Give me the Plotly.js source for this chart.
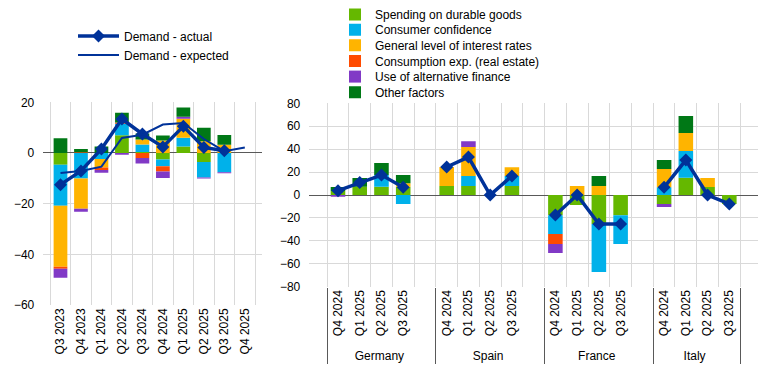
<!DOCTYPE html>
<html><head><meta charset="utf-8">
<script src="https://cdn.plot.ly/plotly-3.0.1.min.js"></script>
<style>html,body{margin:0;padding:0;background:#fff}#chart{width:768px;height:380px}</style>
</head><body><div id="chart"></div>
<script>
// ---------- Left panel (euro area) ----------
var leftQuarters = ["Q3 2023","Q4 2023","Q1 2024","Q2 2024","Q3 2024","Q4 2024","Q1 2025","Q2 2025","Q3 2025","Q4 2025"];
var leftDurable     = [-4.6, 0, 0, 7.0, 0.4, -2.6, 2.6, -3.6, 0, null];
var leftConfidence  = [-16.2, -10.1, -2.4, 4.5, 2.9, -2.6, 3.4, -6.1, -7.6, null];
var leftInterest    = [-24.1, -11.9, -3.3, 0, 2.0, 4.9, 7.5, 4.6, 3.2, null];
var leftConsumption = [-0.8, 0.3, -1.0, 0.5, -2.0, -2.1, 0, 0, 0, null];
var leftAltFinance  = [-3.5, -1.2, -1.1, -0.7, -2.2, -2.6, 0.8, -0.4, -0.4, null];
var leftOther       = [5.8, 1.3, 2.6, 3.9, 2.4, 2.0, 3.6, 5.4, 3.9, null];
var leftActual      = [-12.5, -7.1, 1.6, 13.4, 7.5, 2.4, 10.5, 2.2, 0.9, null];
var leftExpected    = [-7.9, -7.1, -5.4, 5.9, 7.2, 11.2, 11.8, 5.5, 0.7, 2.2];

// ---------- Right panel (countries) ----------
var countries = ["Germany","Spain","France","Italy"];
var countryQuarters = ["Q4 2024","Q1 2025","Q2 2025","Q3 2025"];
var durableByCountry     = [[3.5, 7.3, 7.3, 7.3], [7.8, 7.8, 0, 7.8], [-17.7, -8.7, -25.3, -17.7], [-7.8, 15.1, 7.0, -7.8]];
var confidenceByCountry  = [[0, 0, 10.2, -7.8], [0, 8.7, 0, 8.7], [-16.3, 0, -41.9, -25.0], [6.7, 23.3, 0, 0]];
var interestByCountry    = [[0, 0, 0, 2.9], [16.6, 25.3, 0, 7.8], [0, 7.8, 7.8, 0], [16.0, 15.7, 7.8, 0]];
var consumptionByCountry = [[0, 0, 0, 0], [0, 0, 0, 0], [-8.7, 0, 0, 0], [0, 0, 0, 0]];
var altFinanceByCountry  = [[-1.5, 0, 0, 0], [0, 5.2, 0, 0], [-7.8, 0, 0, 0], [-2.6, 0, 0, 0]];
var otherByCountry       = [[3.5, 7.6, 10.5, 7.3], [0, 0, 0, 0], [0, 0, 8.7, 0], [7.8, 14.8, 0, 0]];
var actualByCountry      = [[3.8, 10.8, 17.4, 6.7], [24.4, 33.1, 0, 16.6], [-17.4, 0, -25.3, -25.3], [6.7, 30.5, 0, -7.8]];

var seriesNames = ["Spending on durable goods","Consumer confidence","General level of interest rates","Consumption exp. (real estate)","Use of alternative finance","Other factors"];
var seriesColors = ["#65B800","#00B1EA","#FFB400","#FF4B00","#8139C6","#007816"];
var lineColor = "#003299";

var leftSeries = [leftDurable, leftConfidence, leftInterest, leftConsumption, leftAltFinance, leftOther];
var rightSeries = [durableByCountry, confidenceByCountry, interestByCountry, consumptionByCountry, altFinanceByCountry, otherByCountry];

// Build multicategory x with a blank slot after each country except the last
function buildMulti(values) {
  var g = [], c = [], v = [];
  countries.forEach(function(country, i) {
    countryQuarters.forEach(function(q, j) {
      g.push(country); c.push(q); v.push(values ? values[i][j] : null);
    });
    if (i < countries.length - 1) { g.push(country); c.push(" "); v.push(null); }
  });
  return {x: [g, c], y: v};
}

function legendKey(k) { return k === 0 ? "legend2" : "legend" + (k + 2); }

var traces = [];
seriesNames.forEach(function(name, k) {
  traces.push({type: "bar", name: name, x: leftQuarters, y: leftSeries[k],
    marker: {color: seriesColors[k]}, xaxis: "x", yaxis: "y", showlegend: false, hoverinfo: "skip"});
});
seriesNames.forEach(function(name, k) {
  var m = buildMulti(rightSeries[k]);
  traces.push({type: "bar", name: name, x: m.x, y: m.y,
    marker: {color: seriesColors[k]}, xaxis: "x2", yaxis: "y2",
    legend: legendKey(k), showlegend: true, hoverinfo: "skip"});
});
traces.push({type: "scatter", mode: "lines+markers", name: "Demand - actual", x: leftQuarters, y: leftActual,
  line: {color: lineColor, width: 3.5}, marker: {symbol: "diamond", size: 10, color: lineColor},
  xaxis: "x", yaxis: "y", legend: "legend"});
traces.push({type: "scatter", mode: "lines", name: "Demand - expected", x: leftQuarters, y: leftExpected,
  line: {color: lineColor, width: 2}, xaxis: "x", yaxis: "y", legend: "legend"});
var ma = buildMulti(actualByCountry);
traces.push({type: "scatter", mode: "lines+markers", name: "Demand - actual", x: ma.x, y: ma.y,
  line: {color: lineColor, width: 3.5}, marker: {symbol: "diamond", size: 10, color: lineColor},
  xaxis: "x2", yaxis: "y2", showlegend: false, connectgaps: false});

var grid = "#D9D9D9";
var W = 768, H = 380;
function px(x) { return x / W; }
function py(y) { return 1 - y / H; }

var legendBase = {bgcolor: "rgba(0,0,0,0)", borderwidth: 0, font: {size: 12, color: "#000"},
  xanchor: "left", yanchor: "middle", tracegroupgap: 0};
// legend rows (text centres, px from top); first row is top-anchored
var rightRows = [14, 29.7, 45.3, 61, 76.6, 92.3];

var layout = {
  width: W, height: H,
  margin: {l: 0, r: 0, t: 0, b: 0},
  paper_bgcolor: "#fff", plot_bgcolor: "#fff",
  font: {family: "Liberation Sans, Arial, sans-serif", size: 12, color: "#000"},
  barmode: "relative", bargap: 0.33,
  xaxis: {domain: [px(43.3), px(262)], type: "category", tickson: "boundaries", showgrid: true, gridcolor: grid,
    tickangle: -90, ticks: "", showline: false, zeroline: false, fixedrange: true},
  yaxis: {domain: [py(305), py(102.3)], range: [-60, 20], dtick: 20, showgrid: true, gridcolor: grid,
    zeroline: true, zerolinecolor: "#595959", zerolinewidth: 1, ticks: "", ticklabelstandoff: 8, fixedrange: true},
  xaxis2: {domain: [px(309.3), px(758)], type: "multicategory", tickson: "boundaries", showgrid: true, gridcolor: grid,
    tickangle: -90, ticks: "", showdividers: true, dividercolor: "#595959", dividerwidth: 1, anchor: "y2", fixedrange: true},
  yaxis2: {domain: [py(286.7), py(103.3)], range: [-80, 80], dtick: 20, showgrid: true, gridcolor: grid,
    zeroline: true, zerolinecolor: "#595959", zerolinewidth: 1, ticks: "", ticklabelstandoff: 8, anchor: "x2", fixedrange: true},
  legend: Object.assign({}, legendBase, {x: px(73), y: py(45.5), itemwidth: 41})
};
rightRows.forEach(function(r, k) {
  var opts = {x: px(335), y: py(r)};
  if (k === 0) { opts.y = 1; opts.yanchor = "top"; }
  layout[legendKey(k)] = Object.assign({}, legendBase, opts);
});

Plotly.newPlot("chart", traces, layout, {displayModeBar: false, staticPlot: true});
</script>
</body></html>
